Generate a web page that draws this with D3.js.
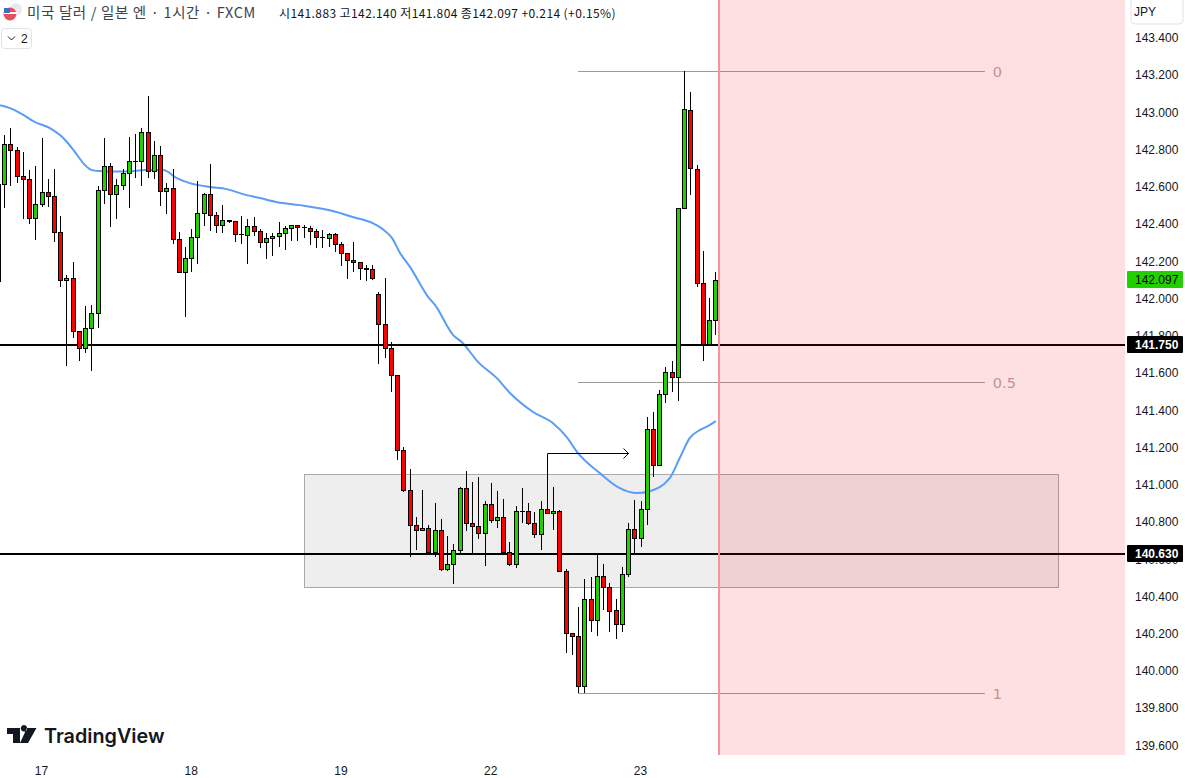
<!DOCTYPE html>
<html><head><meta charset="utf-8">
<script src="https://cdn.jsdelivr.net/npm/d3@7"></script>
<style>html,body{margin:0;padding:0;background:#fff;overflow:hidden}svg{display:block}text{font-family:"Liberation Sans",Arial,sans-serif}</style>
</head><body><svg id="c" width="1185" height="778"></svg>
<script>
const firstIndex = -6;
const opens = [142.616,142.827,142.795,142.655,142.639,142.430,142.505,142.569,142.548,142.355,142.097,142.108,141.823,141.732,141.839,141.920,142.580,142.709,142.559,142.607,142.671,142.736,142.736,142.892,142.682,142.768,142.575,142.591,142.317,142.140,142.215,142.328,142.457,142.559,142.446,142.392,142.419,142.414,142.344,142.338,142.387,142.360,142.301,142.322,142.333,142.349,142.376,142.392,142.381,142.376,142.360,142.328,142.322,142.344,142.290,142.242,142.204,142.193,142.161,142.156,142.022,141.861,141.732,141.587,141.184,140.974,140.786,140.754,140.765,140.641,140.754,140.545,140.572,140.647,140.980,140.792,140.776,140.738,140.894,140.808,140.829,140.641,140.572,140.856,140.856,140.792,140.733,140.867,140.846,140.856,140.539,140.201,140.190,139.917,140.384,140.271,140.507,140.448,140.325,140.250,140.523,140.760,140.711,140.867,141.297,141.103,141.485,141.603,141.576,142.483,143.010,142.693,142.081,141.753,141.883];
const highs = [142.877,142.915,142.811,142.786,142.689,142.711,142.861,142.641,142.694,142.442,142.124,142.193,141.823,141.959,141.964,142.602,142.861,142.725,142.641,142.693,142.866,142.882,142.915,143.086,142.845,142.818,142.618,142.693,142.355,142.274,142.371,142.630,142.566,142.721,142.462,142.501,142.419,142.414,142.440,142.424,142.435,142.371,142.349,142.349,142.408,142.387,142.392,142.392,142.392,142.387,142.371,142.365,142.349,142.349,142.301,142.242,142.301,142.193,142.177,142.177,142.032,142.108,141.764,141.587,141.200,141.082,140.829,140.974,140.781,140.899,140.813,140.722,140.684,140.990,141.071,141.017,141.039,140.910,141.007,140.964,140.921,140.690,140.883,140.980,140.899,140.851,140.910,140.867,140.985,140.862,140.545,140.201,140.341,140.496,140.502,140.625,140.572,140.470,140.384,140.556,140.792,140.915,140.910,141.361,141.388,141.506,141.630,141.662,142.483,143.219,143.106,142.714,142.253,142.000,142.140];
const lows = [142.487,142.605,142.621,142.428,142.401,142.315,142.492,142.492,142.304,142.062,141.638,141.789,141.665,141.708,141.611,141.842,142.508,142.385,142.428,142.583,142.487,142.648,142.605,142.648,142.642,142.497,142.454,142.290,142.140,141.898,142.143,142.186,142.390,142.363,142.352,142.352,142.406,142.304,142.292,142.186,142.336,142.272,142.213,142.229,142.277,142.261,142.309,142.309,142.326,142.288,142.272,142.272,142.277,142.250,142.175,142.105,142.143,142.100,142.095,142.097,141.649,141.678,141.495,141.133,140.962,140.609,140.650,140.754,140.620,140.609,140.539,140.539,140.464,140.631,140.749,140.631,140.706,140.561,140.792,140.770,140.631,140.561,140.550,140.792,140.786,140.711,140.647,140.846,140.754,140.534,140.094,140.088,139.879,139.879,140.207,140.185,140.325,140.207,140.169,140.207,140.505,140.631,140.663,140.786,141.039,141.103,141.440,141.495,141.450,142.483,142.556,142.062,141.665,141.753,141.804];
const closes = [142.827,142.795,142.655,142.639,142.430,142.505,142.569,142.548,142.355,142.097,142.108,141.823,141.732,141.839,141.920,142.580,142.709,142.559,142.607,142.671,142.736,142.736,142.892,142.682,142.768,142.575,142.591,142.317,142.140,142.215,142.328,142.457,142.559,142.446,142.392,142.419,142.414,142.344,142.344,142.387,142.360,142.301,142.322,142.333,142.349,142.376,142.392,142.381,142.381,142.360,142.328,142.328,142.344,142.290,142.242,142.204,142.193,142.161,142.156,142.108,141.861,141.732,141.587,141.184,140.974,140.786,140.754,140.765,140.641,140.754,140.545,140.572,140.647,140.980,140.792,140.776,140.738,140.894,140.808,140.829,140.641,140.572,140.856,140.856,140.792,140.733,140.867,140.846,140.856,140.539,140.201,140.190,139.917,140.384,140.276,140.507,140.448,140.319,140.250,140.523,140.760,140.711,140.867,141.297,141.103,141.485,141.603,141.576,142.483,143.015,142.698,142.081,141.753,141.882,142.097];
const edgeWickIndex = -6.72, edgeWick = [142.616, 142.088];

const maIndex = [-6.73,-5.13,-3.2,-1.12,1.28,2.88,4,5.29,6.89,8.01,9.29,11.7,14.9,16.5,19.4,21.6,23.7,26.9,29.6,32.2,34.9,37.7,41.3,46.6,49.8,53,54.6,56.1,57.4,59,61.9,63,65.9,67.3,69.9,72.9,75,78.7,81.9,84.1,85.9,89.4,92.3,95.4,97.4,100.6,102.2,103.8,105.4,106.7,108];
const maValues = [143.038,143.022,142.990,142.947,142.915,142.877,142.840,142.786,142.716,142.689,142.684,142.681,142.684,142.689,142.689,142.646,142.619,142.598,142.587,142.560,142.539,142.517,142.501,142.469,142.437,142.404,142.372,142.324,142.243,142.168,142.007,141.964,141.803,141.765,141.658,141.572,141.492,141.390,141.330,141.255,141.169,141.062,140.987,140.955,140.965,141.035,141.143,141.250,141.293,141.314,141.341];

const priceTicks = [143.4,143.2,143.0,142.8,142.6,142.4,142.2,142.0,141.8,141.6,141.4,141.2,141.0,140.8,140.6,140.4,140.2,140.0,139.8,139.6];
const dateTickIndex = [0,24,48,72,96];
const dateTickLabels = ["17","18","19","22","23"];
const levels = [141.75, 140.63];
const fibLevels = [143.219, 141.549, 139.879];
const fibLabels = ["0","0.5","1"];
const fibRange = [85.9, 151.1];
const boxIndex = [42.05, 162.95];
const boxPrices = [141.055, 140.448];
const zoneIndex = [108.5, 173.6];
const arrowIndex = [81, 94];
const arrowPrices = [140.862, 141.168];
const lastPrice = 142.097;
const headerName = "미국 달러 / 일본 엔 · 1시간 · FXCM";
const headerOhlc = "시141.883 고142.140 저141.804 종142.097 +0.214 (+0.15%)";

const GREEN = "#22d000", RED = "#ff0000";
const x = d3.scaleLinear().domain([0,108]).range([42,715.9]);
const y = d3.scaleLinear().domain([143.4,139.6]).range([37.7,745.4]);
const svg = d3.select("#c");
const px = v => Math.floor(x(v)) + .5;

// box
svg.append("rect").attr("x",x(boxIndex[0])).attr("width",x(boxIndex[1])-x(boxIndex[0]))
  .attr("y",y(boxPrices[0])).attr("height",y(boxPrices[1])-y(boxPrices[0]))
  .attr("fill","#eeeeee").attr("stroke","#aaaaaa").attr("stroke-width",1).attr("shape-rendering","crispEdges");

// fib
const fg = svg.append("g");
fibLevels.forEach((p,k)=>{
  fg.append("line").attr("x1",x(fibRange[0])).attr("x2",x(fibRange[1])).attr("y1",Math.floor(y(p))+.5).attr("y2",Math.floor(y(p))+.5)
    .attr("stroke","#a09a9a").attr("stroke-width",1);
  fg.append("text").attr("x",x(fibRange[1])+8).attr("y",y(p)+5.5).attr("fill","#b4a8a8")
    .style("font-family","'DejaVu Sans',sans-serif").style("font-size","14.5px").text(fibLabels[k]);
});

// MA
svg.append("path").datum(maIndex.map((d,i)=>[d,maValues[i]]))
  .attr("fill","none").attr("stroke","#5b9cf6").attr("stroke-width",2)
  .attr("d",d3.line().x(d=>x(d[0])).y(d=>y(d[1])).curve(d3.curveMonotoneX));

// horizontal levels
levels.forEach(p=>svg.append("line").attr("x1",0).attr("x2",1125).attr("y1",Math.round(y(p))).attr("y2",Math.round(y(p)))
  .attr("stroke","#000").attr("stroke-width",2).attr("shape-rendering","crispEdges"));

// candles
const candles = opens.map((o,i)=>({i:i+firstIndex,o,h:highs[i],l:lows[i],c:closes[i]}));
const cg = svg.append("g").attr("shape-rendering","crispEdges");
cg.append("line").attr("x1",px(edgeWickIndex)).attr("x2",px(edgeWickIndex)).attr("y1",y(edgeWick[0])).attr("y2",y(edgeWick[1])).attr("stroke","#000");
const g = cg.selectAll("g").data(candles).join("g");
g.append("line").attr("x1",d=>px(d.i)).attr("x2",d=>px(d.i)).attr("y1",d=>y(d.h)).attr("y2",d=>y(d.l)).attr("stroke","#000").attr("stroke-width",1);
g.append("rect").attr("x",d=>px(d.i)-2).attr("width",4)
  .attr("y",d=>Math.round(y(Math.max(d.o,d.c)))+.5)
  .attr("height",d=>Math.max(Math.round(y(Math.min(d.o,d.c)))-Math.round(y(Math.max(d.o,d.c))),.01))
  .attr("fill",d=>d.c>=d.o?GREEN:RED).attr("stroke","#000").attr("stroke-width",1);

// arrow
const ax0=px(arrowIndex[0]), ax1=x(arrowIndex[1]), ay0=y(arrowPrices[0]), ay1=Math.floor(y(arrowPrices[1]))+.5;
svg.append("path").attr("d",`M${ax0},${ay0}V${ay1}H${ax1}M${ax1-5},${ay1-5}L${ax1},${ay1}L${ax1-5},${ay1+5}`)
  .attr("fill","none").attr("stroke","#000").attr("stroke-width",1);

// zone
svg.append("rect").attr("x",x(zoneIndex[0])).attr("y",0).attr("width",1125-x(zoneIndex[0])).attr("height",755)
  .attr("fill","rgb(255,0,20)").attr("fill-opacity",.12);
svg.append("line").attr("x1",x(zoneIndex[0])).attr("x2",x(zoneIndex[0])).attr("y1",0).attr("y2",755)
  .attr("stroke","#f5929c").attr("stroke-width",2);

// y axis
const ya = svg.append("g").attr("transform","translate(1125,0)")
  .call(d3.axisRight(y).tickValues(priceTicks).tickFormat(d3.format(".3f")).tickSize(0).tickPadding(10));
ya.select(".domain").remove();
ya.selectAll("text").attr("fill","#131722").style("font-size","12px").style("font-family","'Liberation Sans',Arial,sans-serif");

// x axis
const xa = svg.append("g").attr("transform","translate(-1,755)")
  .call(d3.axisBottom(x).tickValues(dateTickIndex).tickFormat((d,i)=>dateTickLabels[i]).tickSize(0).tickPadding(7));
xa.select(".domain").remove();
xa.selectAll("text").attr("fill","#131722").attr("dy","1.05em").style("font-size","12px").style("font-family","'Liberation Sans',Arial,sans-serif");

// price labels
function tag(p,bg,fg2,w){
  const yy=Math.round(y(p));
  svg.append("rect").attr("x",1127).attr("y",yy-9).attr("width",56).attr("height",17).attr("rx",1).attr("fill",bg);
  svg.append("text").attr("x",1135).attr("y",yy+4).attr("fill",fg2).style("font-size","12px").style("font-weight",w).text(d3.format(".3f")(p));
}
tag(lastPrice,GREEN,"#000","normal");
levels.forEach(p=>tag(p,"#000","#fff","bold"));

// JPY
svg.append("rect").attr("x",1131).attr("y",-4).attr("width",52).attr("height",28).attr("rx",4).attr("fill","#fff").attr("stroke","#e0e3eb");
svg.append("text").attr("x",1134).attr("y",16).attr("fill","#131722").style("font-size","12px").text("JPY");

// header
const flag = svg.append("g");
flag.append("circle").attr("cx",16).attr("cy",9).attr("r",6).attr("fill","#e8e8f0");
flag.append("circle").attr("cx",10).attr("cy",14).attr("r",6.5).attr("fill","#e8505a");
flag.append("rect").attr("x",4).attr("y",12).attr("width",13).attr("height",2).attr("fill","#fff");
flag.append("rect").attr("x",4).attr("y",8).attr("width",6).attr("height",5).attr("fill","#3f6fc8");
svg.append("text").attr("x",27).attr("y",18).attr("fill","#3d4150").attr("letter-spacing","0.65").style("font-family","'Noto Sans CJK KR',sans-serif").style("font-size","14.5px").text(headerName);
svg.append("text").attr("x",279).attr("y",18).attr("fill","#131722").attr("letter-spacing","0.4").style("font-family","'Noto Sans CJK KR',sans-serif").style("font-size","12px").text(headerOhlc);
svg.append("rect").attr("x",1.5).attr("y",28.5).attr("width",30).attr("height",20).attr("rx",3).attr("fill","#fff").attr("stroke","#e0e3eb");
svg.append("path").attr("d","M8,36.5l3.5,3.5l3.5,-3.5").attr("fill","none").attr("stroke","#131722").attr("stroke-width",1);
svg.append("text").attr("x",21).attr("y",43).attr("fill","#131722").style("font-size","12px").text("2");

// logo
svg.append("path").attr("d","M7,728H20V743H13V734H7ZM27,728L36.5,728L28,743H20ZM24,731.5a3.2,3.2 0 1,0 -.01,0Z").attr("fill","#131722");
svg.append("text").attr("x",44).attr("y",743).attr("fill","#131722").style("font-family","Inter,sans-serif").style("font-weight",600).style("font-size","19.8px").text("TradingView");
</script></body></html>
